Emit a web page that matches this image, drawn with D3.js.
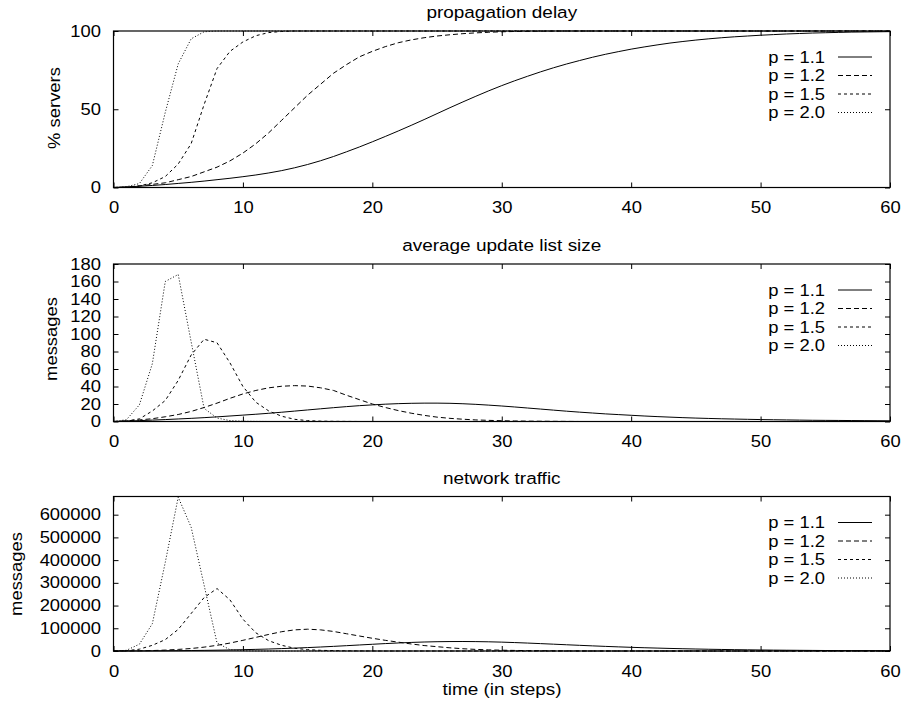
<!DOCTYPE html>
<html><head><meta charset="utf-8">
<script src="https://cdn.jsdelivr.net/npm/d3@7"></script>
<style>
body{margin:0;background:#fff}
svg{display:block}
text{font-family:"Liberation Sans",Arial,Helvetica,sans-serif;fill:#000}
</style>
</head><body>
<svg id="chart" width="904" height="704"></svg>
<script>
// ---------------- data ----------------
const steps = [0,1,2,3,4,5,6,7,8,9,10,11,12,13,14,15,16,17,18,19,20,21,22,23,24,25,26,27,28,29,30,
  31,32,33,34,35,36,37,38,39,40,41,42,43,44,45,46,47,48,49,50,51,52,53,54,55,56,57,58,59,60];
const seriesLabels = ["p = 1.1", "p = 1.2", "p = 1.5", "p = 2.0"];
const panelTitles = ["propagation delay", "average update list size", "network traffic"];
const yAxisLabels = ["% servers", "messages", "messages"];
const xAxisLabel = "time (in steps)";
const xTicks = [0, 10, 20, 30, 40, 50, 60];
const delayTicks = [0, 50, 100];
const listTicks = [0, 20, 40, 60, 80, 100, 120, 140, 160, 180];
const trafficTicks = [0, 100000, 200000, 300000, 400000, 500000, 600000];

// propagation delay (% servers)
const delayP11 = [0,0.3,0.8,1.3,1.9,2.6,3.3,4.1,5.0,5.9, 6.9,8.0,9.3,10.8,12.6,14.7,17.1,19.8,22.8,25.9,
  29.2,32.6,36.1,39.7,43.4,47.2,51.0,54.7,58.3,61.8, 65.1,68.2,71.1,73.9,76.5,78.9,81.1,83.2,85.1,86.8,
  88.4,89.8,91.1,92.3,93.3,94.2,95.0,95.7,96.3,96.8, 97.3,97.7,98.1,98.4,98.7,98.9,99.1,99.3,99.4,99.5, 99.6];
const delayP12 = [0,0.3,1,2,3,5,7,10,13,17, 22,28,35,43,51,59,66,73,78.5,83.5,
  87,90,92.5,94.3,95.7,96.8,97.6,98.3,98.8,99.2, 99.5,99.7,99.8,99.9,99.95,100,100,100,100,100,
  100,100,100,100,100,100,100,100,100,100, 100,100,100,100,100,100,100,100,100,100, 100];
const delayP15 = [0,0.3,1,3,7,15,28,53,76,87, 93,97,99,99.7,100,100,100,100,100,100,
  100,100,100,100,100,100,100,100,100,100, 100,100,100,100,100,100,100,100,100,100,
  100,100,100,100,100,100,100,100,100,100, 100,100,100,100,100,100,100,100,100,100, 100];
const delayP20 = [0,0.5,2.5,14,48,79,95,99.5,100,100, 100,100,100,100,100,100,100,100,100,100,
  100,100,100,100,100,100,100,100,100,100, 100,100,100,100,100,100,100,100,100,100,
  100,100,100,100,100,100,100,100,100,100, 100,100,100,100,100,100,100,100,100,100, 100];

// average update list size (messages)
const listP11 = [0,0.5,1,1.6,2.2,2.9,3.6,4.4,5.3,6.3, 7.3,8.3,9.4,10.6,11.9,13.2,14.5,15.8,17,18.1,
  19,19.8,20.4,20.8,21,21,20.8,20.3,19.6,18.7, 17.7,16.6,15.4,14.2,13,11.8,10.7,9.7,8.7,7.9,
  7.1,6.3,5.6,5,4.4,3.9,3.5,3.1,2.8,2.5, 2.2,2,1.8,1.6,1.4,1.3,1.2,1.1,1,0.9, 0.8];
const listP12 = [0,0.8,1.8,3.2,5.4,8,11.5,16,21,26.5, 31.5,35.5,38.5,40.3,41,40.5,38.5,35.5,30,25,
  20,16,12.5,9.5,7,5,3.6,2.6,1.8,1.3, 0.9,0.6,0.4,0.3,0.2,0.1,0,0,0,0,
  0,0,0,0,0,0,0,0,0,0, 0,0,0,0,0,0,0,0,0,0, 0];
const listP15 = [0,0.5,3,12,24,47,76,94,90,67, 40,22,12,6,2.5,1,0.4,0.2,0.1,0,
  0,0,0,0,0,0,0,0,0,0, 0,0,0,0,0,0,0,0,0,0,
  0,0,0,0,0,0,0,0,0,0, 0,0,0,0,0,0,0,0,0,0, 0];
const listP20 = [0,2,19,66,160,168,91,15,4,1, 0.3,0.1,0,0,0,0,0,0,0,0,
  0,0,0,0,0,0,0,0,0,0, 0,0,0,0,0,0,0,0,0,0,
  0,0,0,0,0,0,0,0,0,0, 0,0,0,0,0,0,0,0,0,0, 0];

// network traffic (messages)
const trafficP11 = [0,100,300,600,1000,1500,2100,2800,3600,4600, 5800,7200,8800,10600,12700,15000,17600,20400,23400,26500,
  29600,32600,35300,37700,39600,40900,41600,41800,41400,40500, 39000,37100,34900,32500,30000,27500,25000,22600,20300,18200,
  16200,14400,12800,11300,10000,8800,7700,6800,5900,5200, 4500,3900,3400,3000,2600,2200,1900,1700,1500,1300, 1100];
const trafficP12 = [0,200,800,2000,4000,7000,11000,17000,25000,35000, 47000,60000,73000,85000,93000,96000,93000,86000,76000,66000,
  56000,47000,39000,31000,24000,19000,14000,10000,7000,5000, 3500,2500,1700,1100,700,400,200,100,0,0,
  0,0,0,0,0,0,0,0,0,0, 0,0,0,0,0,0,0,0,0,0, 0];
const trafficP15 = [0,1000,8000,25000,50000,95000,165000,235000,275000,225000, 140000,80000,45000,25000,12000,6000,3000,1500,700,300,
  100,0,0,0,0,0,0,0,0,0, 0,0,0,0,0,0,0,0,0,0,
  0,0,0,0,0,0,0,0,0,0, 0,0,0,0,0,0,0,0,0,0, 0];
const trafficP20 = [0,3000,30000,120000,390000,677000,545000,290000,35000,6000, 1000,200,0,0,0,0,0,0,0,0,
  0,0,0,0,0,0,0,0,0,0, 0,0,0,0,0,0,0,0,0,0,
  0,0,0,0,0,0,0,0,0,0, 0,0,0,0,0,0,0,0,0,0, 0];

// ---------------- layout / style ----------------
const SX = 1.15;               // horizontal glyph stretch
const FS = 16;                 // base font size
const dashes = [null, "5,3", "3,3", "1,2"];
const left = 113.5, right = 890;
const panels = [
  {top: 31,    bottom: 187.5, yMax: 100,    ticks: delayTicks,   series: [delayP11, delayP12, delayP15, delayP20],     ylabX: 60, ylabY: 108},
  {top: 264,   bottom: 421.5, yMax: 180,    ticks: listTicks,    series: [listP11, listP12, listP15, listP20],         ylabX: 57, ylabY: 339},
  {top: 496.5, bottom: 651,   yMax: 680000, ticks: trafficTicks, series: [trafficP11, trafficP12, trafficP15, trafficP20], ylabX: 22, ylabY: 574}
];

const svg = d3.select("#chart");
svg.append("rect").attr("width", 904).attr("height", 704).attr("fill", "#fff");

function label(parent, x, y, str, opts = {}) {
  const g = parent.append("g")
    .attr("transform", `translate(${x},${y})` + (opts.rotate ? ` rotate(${opts.rotate})` : ""));
  return g.append("text")
    .attr("transform", `scale(${SX},1)`)
    .attr("text-anchor", opts.anchor || "middle")
    .attr("font-size", opts.size || FS)
    .attr("dy", opts.dy || 0)
    .text(str);
}

const x = d3.scaleLinear().domain([0, 60]).range([left, right]);

panels.forEach((p, pi) => {
  const y = d3.scaleLinear().domain([0, p.yMax]).range([p.bottom, p.top]);
  const g = svg.append("g");

  // axes (ticks point inward)
  const bottomAxis = g.append("g").attr("transform", `translate(0,${p.bottom})`)
    .call(d3.axisBottom(x).tickValues(xTicks).tickSizeInner(-5).tickSizeOuter(0).tickPadding(14.5).tickFormat(d3.format("d")));
  const topAxis = g.append("g").attr("transform", `translate(0,${p.top})`)
    .call(d3.axisTop(x).tickValues(xTicks).tickSizeInner(-5).tickSizeOuter(0).tickFormat(""));
  const leftAxis = g.append("g").attr("transform", `translate(${left},0)`)
    .call(d3.axisLeft(y).tickValues(p.ticks).tickSizeInner(-5).tickSizeOuter(0).tickPadding(12.5).tickFormat(d3.format("d")));
  const rightAxis = g.append("g").attr("transform", `translate(${right},0)`)
    .call(d3.axisRight(y).tickValues(p.ticks).tickSizeInner(-5).tickSizeOuter(0).tickFormat(""));

  [bottomAxis, topAxis, leftAxis, rightAxis].forEach(a => {
    a.select(".domain").remove();
    a.selectAll("line").attr("stroke", "#000").attr("stroke-width", 1);
    a.selectAll("text")
      .attr("font-size", FS)
      .attr("font-family", '"Liberation Sans",Arial,Helvetica,sans-serif')
      .attr("fill", "#000")
      .each(function () {
        const t = d3.select(this);
        const xv = +(t.attr("x") || 0);
        t.attr("x", xv / SX).attr("transform", `scale(${SX},1)`);
      });
  });

  // frame
  g.append("rect")
    .attr("x", left).attr("y", p.top)
    .attr("width", right - left).attr("height", p.bottom - p.top)
    .attr("fill", "none").attr("stroke", "#000").attr("stroke-width", 1.2);

  // clip
  const clipId = "clip" + pi;
  svg.append("clipPath").attr("id", clipId).append("rect")
    .attr("x", left).attr("y", p.top - 1).attr("width", right - left).attr("height", p.bottom - p.top + 2);

  const line = d3.line().x(d => x(d[0])).y(d => y(d[1]));
  const plot = g.append("g").attr("clip-path", `url(#${clipId})`);
  p.series.forEach((vals, si) => {
    const pts = steps.map((s, i) => [s, vals[i]]);
    plot.append("path").datum(pts)
      .attr("d", line)
      .attr("fill", "none")
      .attr("stroke", "#000")
      .attr("stroke-width", 1)
      .attr("stroke-dasharray", dashes[si]);
  });

  // legend
  seriesLabels.forEach((lab, si) => {
    const cy = p.top + 26 + si * 18.5;
    label(g, 825, cy, lab, {anchor: "end", dy: "0.35em"});
    g.append("line")
      .attr("x1", 838).attr("x2", 872).attr("y1", cy).attr("y2", cy)
      .attr("stroke", "#000").attr("stroke-width", 1)
      .attr("stroke-dasharray", dashes[si]);
  });

  // title
  label(g, (left + right) / 2, p.top - 13, panelTitles[pi], {size: 16.5});
  // y label
  label(g, p.ylabX, p.ylabY, yAxisLabels[pi], {rotate: -90});
});

label(svg, 502, 695, xAxisLabel, {size: 16.5});
</script>
</body></html>
